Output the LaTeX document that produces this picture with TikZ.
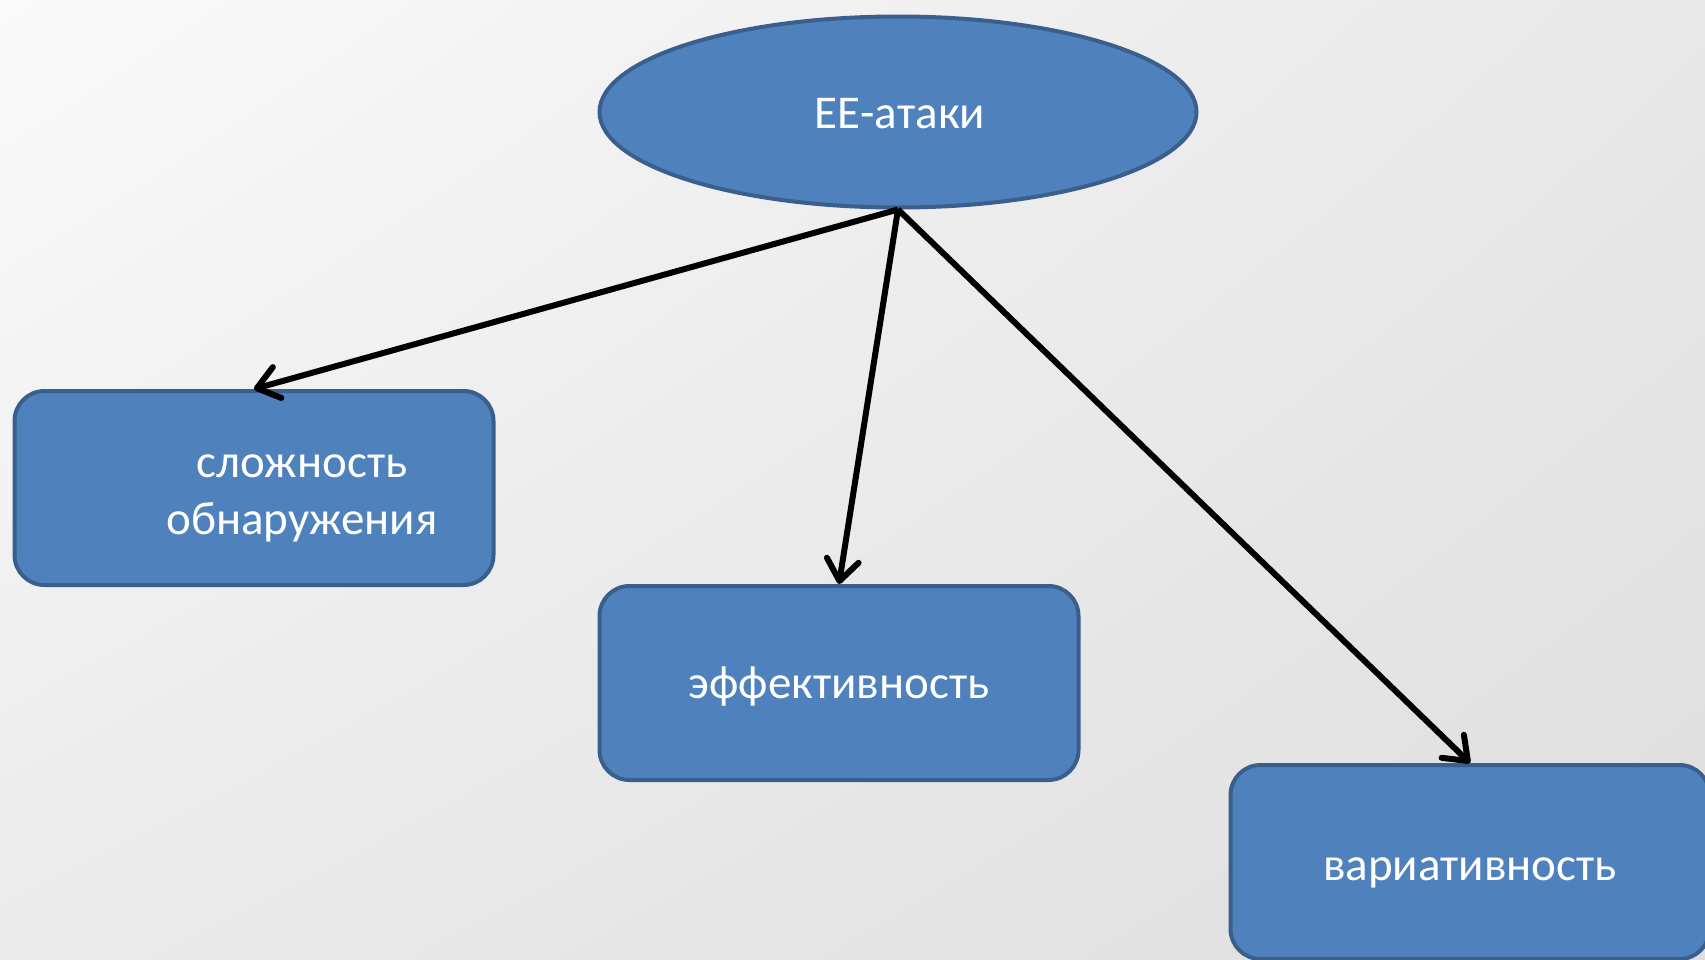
\documentclass[tikz,border=0pt]{standalone}
\usepackage{fontspec}
\setmainfont{Carlito}
\usetikzlibrary{shapes.geometric,arrows.meta,shadings}
\definecolor{boxfill}{HTML}{4F81BD}
\definecolor{boxline}{HTML}{3B5F8C}
\tikzset{
  lbl/.style={font=\fontsize{47}{57}\selectfont, text=white, align=center, inner sep=0pt},
  ovalnode/.style={ellipse, draw=boxline, fill=boxfill, line width=4pt,
    minimum width=597pt, minimum height=191pt, inner sep=0pt},
  boxnode/.style={rectangle, rounded corners=30pt, draw=boxline, fill=boxfill,
    line width=4pt, minimum width=479pt, minimum height=194pt, inner sep=0pt},
  arr/.style={line width=6pt, -{Straight Barb[length=21pt,width=32pt,line cap=round,line join=round]}},
}
\begin{document}
\begin{tikzpicture}[x=1pt,y=-1pt]
  \useasboundingbox (0,0) rectangle (1705,959);
  \shade[upper left=white!98!black, upper right=white!91!black,
         lower left=white!92!black, lower right=white!87!black]
    (0,0) rectangle (1705,959);
  \node[ovalnode] (e) at (898,112) {};
  \node[lbl] (et) at (900,114) {ЕЕ-атаки};
  \node[boxnode] (b1) at (254,488) {};
  \node[lbl] (b1t) at (302,498) {сложность\\обнаружения};
  \node[boxnode] (b2) at (839,683) {};
  \node[lbl] (b2t) at (839,686) {эффективность};
  \node[boxnode] (b3) at (1470,862) {};
  \node[lbl] (b3t) at (1470,873) {вариативность};
  \draw[arr] (e.south) -- (b1.north);
  \draw[arr] (e.south) -- (b2.north);
  \draw[arr] (e.south) -- (b3.north);
\end{tikzpicture}
\end{document}
